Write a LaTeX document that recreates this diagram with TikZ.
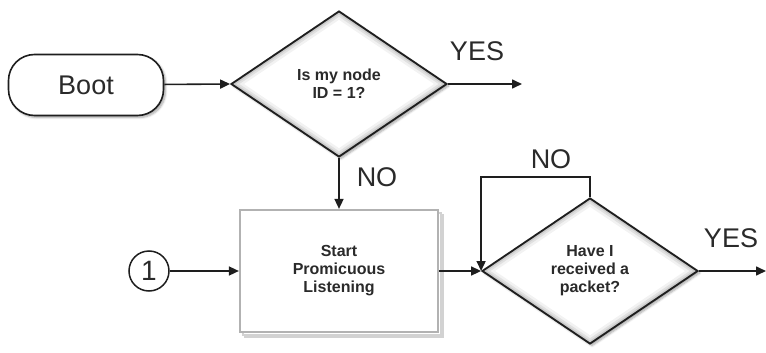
\documentclass[tikz,border=0pt]{standalone}
\usepackage{fontspec}
\setmainfont{Liberation Sans}
\usetikzlibrary{arrows.meta,shapes.geometric,shadows.blur}

\definecolor{ink}{HTML}{1E1E1E}
\definecolor{txt}{HTML}{2A2A2A}

\tikzset{
  arr/.style={draw=ink, line width=1.6pt, -{Triangle[length=10pt,width=9pt]}},
  softshadow/.style={blur shadow={shadow xshift=2pt, shadow yshift=-2pt, shadow blur steps=6, shadow opacity=35}},
  % soft grey band along the inside of a diamond's outline
  innerglow/.style={path picture={
    \foreach \w/\o in {14/0.05,9/0.07,5/0.09,2/0.1}
      \draw[line width=\w pt, black, opacity=\o, line join=miter]
        (path picture bounding box.north) -- (path picture bounding box.east) --
        (path picture bounding box.south) -- (path picture bounding box.west) -- cycle;}},
  terminal/.style={draw=ink, line width=1.6pt, fill=white, rounded corners=26pt,
    minimum width=155pt, minimum height=61pt, font=\fontsize{27}{30}\selectfont, text=txt, softshadow},
  decision/.style={diamond, aspect=1.48, draw=ink, line width=1.8pt, fill=white, inner sep=0pt,
    minimum width=216pt, minimum height=146pt, align=center, text=txt,
    font=\bfseries\fontsize{16}{18}\selectfont, softshadow, innerglow},
  process/.style={draw=gray!60, line width=2.2pt, fill=white, minimum width=198pt, minimum height=122pt,
    align=center, text=txt, font=\bfseries\fontsize{16}{18}\selectfont,
    double copy shadow={shadow xshift=2.5pt, shadow yshift=-2.5pt, draw=gray!35, fill=white, line width=2pt}},
  connector/.style={circle, draw=ink, line width=1.5pt, fill=white, minimum size=40pt, inner sep=0pt,
    text=txt, font=\fontsize{28}{30}\selectfont},
  biglabel/.style={text=txt, font=\fontsize{27}{30}\selectfont, inner sep=0pt}
}

\begin{document}
\begin{tikzpicture}[x=1pt, y=-1pt]
  \useasboundingbox (0,0) rectangle (766,353);

  % shapes
  \node[terminal] (boot) at (86,85) {Boot};
  \node[decision] (d1) at (339,84) {Is my node\\ID = 1?};
  \node[process]  (listen) at (339,271) {Start\\Promicuous\\Listening};
  \node[connector] (one) at (149,271) {1};
  \node[decision] (d2) at (590,271) {Have I\\received a\\packet?};

  % free ends of the outgoing YES arrows
  \coordinate (yes1end) at (522,84);
  \coordinate (yes2end) at (766,271);

  % connectors
  \draw[arr] (boot) -- (d1.west);
  \draw[arr] (d1.east) -- (yes1end);
  \draw[arr] (d1.south) -- (listen.north);
  \draw[arr] (one) -- (listen.west);
  \draw[arr] (listen.east) -- (d2.west);
  \draw[arr] (d2.north) -- ++(0,-20) -| (d2.west);
  \draw[arr] (d2.east) -- (yes2end);

  % branch labels
  \node[biglabel] (lyes1) at (477,51) {YES};
  \node[biglabel] (lno1) at (377,177) {NO};
  \node[biglabel] (lno2) at (551,159) {NO};
  \node[biglabel] (lyes2) at (731,238) {YES};
\end{tikzpicture}
\end{document}
